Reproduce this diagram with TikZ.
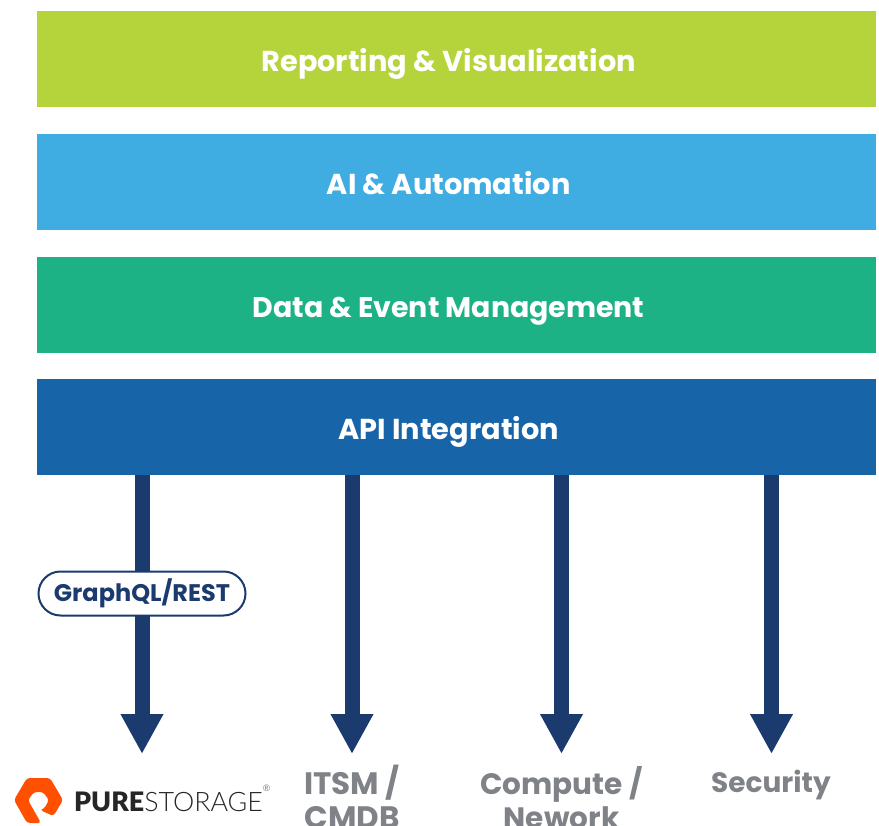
\documentclass[tikz,border=0pt]{standalone}
\usepackage{fontspec}
\setmainfont{Poppins}
\newfontfamily\logobold{Lato}[BoldFont={Lato Black}]
\newfontfamily\logolight{Lato Light}
\usetikzlibrary{arrows.meta,shapes.misc}
\definecolor{lime}{HTML}{B5D43B}
\definecolor{sky}{HTML}{3FACE2}
\definecolor{teal2}{HTML}{1CB286}
\definecolor{apiblue}{HTML}{1765A8}
\definecolor{navy}{HTML}{1B3B6F}
\definecolor{greytx}{HTML}{7F8286}
\definecolor{pureorange}{HTML}{FE5000}
\newcommand{\bandtext}[1]{\smash{\raisebox{-12pt}{#1}}\hspace*{16pt}}
\tikzset{
  band/.style={anchor=north west,minimum width=839pt,minimum height=96pt,inner sep=0pt,text=white,font=\fontsize{28.8}{34}\selectfont\bfseries},
  flow/.style={draw=navy,line width=15pt,-{Triangle[length=40pt,width=40pt]}},
  lbl/.style={text=greytx,anchor=north,align=center,inner sep=0pt},
  pill/.style={draw=navy,line width=2pt,fill=white,rounded rectangle,minimum width=207pt,minimum height=44pt,inner sep=0pt,text=navy,font=\fontsize{24}{28}\selectfont\bfseries}
}
\begin{document}
\begin{tikzpicture}[x=1pt,y=-1pt]
\useasboundingbox (0,0) rectangle (879,826);
\node[band,fill=lime] (report) at (37,11) {\bandtext{Reporting \& Visualization}};
\node[band,fill=sky] (ai) at (37,134) {\bandtext{AI \& Automation}};
\node[band,fill=teal2,font=\fontsize{28.4}{34}\selectfont\bfseries] (data) at (37,257) {\bandtext{Data \& Event Management}};
\node[band,fill=apiblue] (api) at (37,379) {\bandtext{API Integration}};
\coordinate (e1) at (142,754);
\coordinate (e2) at (352,754);
\coordinate (e3) at (561.5,754);
\coordinate (e4) at (771.5,754);
\draw[flow] (e1 |- api.south) -- (e1);
\draw[flow] (e2 |- api.south) -- (e2);
\draw[flow] (e3 |- api.south) -- (e3);
\draw[flow] (e4 |- api.south) -- (e4);
\node[pill] (gql) at (142,593.5) {GraphQL/REST};
\node[lbl,font=\fontsize{31}{34}\selectfont\bfseries] (itsm) at (352,765) {ITSM /\\CMDB};
\node[lbl,font=\fontsize{29.5}{34}\selectfont\bfseries] (comp) at (561.5,766) {Compute /\\Nework};
\node[lbl,font=\fontsize{28}{34}\selectfont\bfseries] (sec) at (771,770) {Security};
\fill[pureorange,rounded corners=3pt] (14,800) -- (27,778) -- (50,778) -- (63,800) -- (53.5,816) -- (40,810) -- (44,809) -- (49,800) -- (43,792) -- (34,792) -- (28,800) -- (41,823) -- (27,823) -- cycle;
\node[anchor=base west,inner sep=0pt,text=black!85,font=\fontsize{26.8}{28}\selectfont] (logo) at (74,811) {{\logobold\bfseries PURE}{\logolight STORAGE}\raisebox{1.3ex}{\logolight\fontsize{9}{9}\selectfont®}};
\end{tikzpicture}
\end{document}
